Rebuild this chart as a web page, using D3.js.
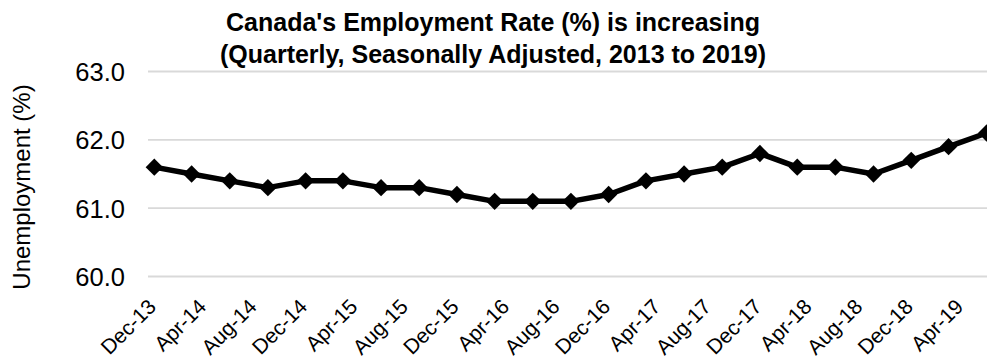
<!DOCTYPE html>
<html>
<head>
<meta charset="utf-8">
<script src="https://cdn.jsdelivr.net/npm/d3@7/dist/d3.min.js"></script>
<style>
  html, body { margin: 0; padding: 0; background: #fff; }
  svg { display: block; }
  text { font-family: Arial, "Liberation Sans", sans-serif; fill: #000; }
</style>
</head>
<body>
<div id="chart"></div>
<script>
// Quarterly periods (first month of each observation)
const periods = [
  "2013-12", "2014-03", "2014-06", "2014-09", "2014-12", "2015-03",
  "2015-06", "2015-09", "2015-12", "2016-03", "2016-06", "2016-09",
  "2016-12", "2017-03", "2017-06", "2017-09", "2017-12", "2018-03",
  "2018-06", "2018-09", "2018-12", "2019-03", "2019-06"
];

// Employment rate, seasonally adjusted (%)
const employmentRate = [
  61.6, 61.5, 61.4, 61.3, 61.4, 61.4, 61.3, 61.3, 61.2, 61.1, 61.1, 61.1,
  61.2, 61.4, 61.5, 61.6, 61.8, 61.6, 61.6, 61.5, 61.7, 61.9, 62.1
];

// Date-axis labels, every four months
const xTickLabels = [
  "Dec-13", "Apr-14", "Aug-14", "Dec-14", "Apr-15", "Aug-15", "Dec-15",
  "Apr-16", "Aug-16", "Dec-16", "Apr-17", "Aug-17", "Dec-17", "Apr-18",
  "Aug-18", "Dec-18", "Apr-19"
];

// Value-axis ticks
const yTicks = [60, 61, 62, 63];

const titleLines = [
  "Canada's Employment Rate (%) is increasing",
  "(Quarterly, Seasonally Adjusted, 2013 to 2019)"
];
const yAxisTitle = "Unemployment (%)";

const W = 987, H = 360;
const plot = { left: 154.3, right: 986.7, top: 71.5, bottom: 276.5, gridLeft: 148 };

const parsePeriod = d3.timeParse("%Y-%m");
const parseTick = d3.timeParse("%b-%y");
const dates = periods.map(parsePeriod);
const data = dates.map((d, i) => ({ date: d, value: employmentRate[i] }));

const x = d3.scaleTime()
  .domain([dates[0], dates[dates.length - 1]])
  .range([plot.left, plot.right]);

const y = d3.scaleLinear()
  .domain([60, 63])
  .range([plot.bottom, plot.top]);

const svg = d3.select("#chart").append("svg")
  .attr("width", W)
  .attr("height", H);

// Horizontal gridlines
svg.append("g")
  .selectAll("line")
  .data(yTicks)
  .join("line")
  .attr("x1", plot.gridLeft)
  .attr("x2", W)
  .attr("y1", d => y(d))
  .attr("y2", d => y(d))
  .attr("stroke", "#d9d9d9")
  .attr("stroke-width", 1.8);

// Value-axis labels
const yAxis = d3.axisLeft(y)
  .tickValues(yTicks)
  .tickFormat(d3.format(".1f"))
  .tickSize(0)
  .tickPadding(0);
const yAxisG = svg.append("g")
  .attr("transform", `translate(125,0)`)
  .call(yAxis);
yAxisG.select(".domain").remove();
yAxisG.selectAll("text")
  .attr("font-size", 25.5)
  .attr("font-family", "Arial, 'Liberation Sans', sans-serif")
  .attr("fill", "#000")
  .attr("dy", "0.35em")
  .attr("x", 0);

// Date-axis labels, rotated
const xAxis = d3.axisBottom(x)
  .tickValues(xTickLabels.map(parseTick))
  .tickFormat(d3.timeFormat("%b-%y"))
  .tickSize(0)
  .tickPadding(0);
const xAxisG = svg.append("g")
  .call(xAxis);
xAxisG.select(".domain").remove();
xAxisG.selectAll(".tick")
  .attr("transform", d => `translate(${x(d) + 3},308)`);
xAxisG.selectAll("text")
  .attr("font-size", 21)
  .attr("font-family", "Arial, 'Liberation Sans', sans-serif")
  .attr("fill", "#000")
  .attr("text-anchor", "end")
  .attr("x", 0)
  .attr("y", 0)
  .attr("dy", 0)
  .attr("transform", "rotate(-45)");

// Series line
const line = d3.line()
  .x(d => x(d.date))
  .y(d => y(d.value));

svg.append("path")
  .datum(data)
  .attr("fill", "none")
  .attr("stroke", "#000")
  .attr("stroke-width", 5.5)
  .attr("stroke-linejoin", "round")
  .attr("d", line);

// Diamond markers
const diamond = d3.symbol().type(d3.symbolSquare).size(150);
svg.append("g")
  .selectAll("path")
  .data(data)
  .join("path")
  .attr("d", diamond)
  .attr("transform", d => `translate(${x(d.date)},${y(d.value)}) rotate(45)`)
  .attr("fill", "#000");

// Title
svg.append("text")
  .attr("text-anchor", "middle")
  .attr("font-size", 25)
  .attr("font-weight", "bold")
  .selectAll("tspan")
  .data(titleLines)
  .join("tspan")
  .attr("x", 493)
  .attr("y", (d, i) => 31 + i * 31.5)
  .text(d => d);

// Value-axis title
svg.append("text")
  .attr("text-anchor", "middle")
  .attr("font-size", 24)
  .attr("transform", "translate(30,187) rotate(-90)")
  .text(yAxisTitle);
</script>
</body>
</html>
